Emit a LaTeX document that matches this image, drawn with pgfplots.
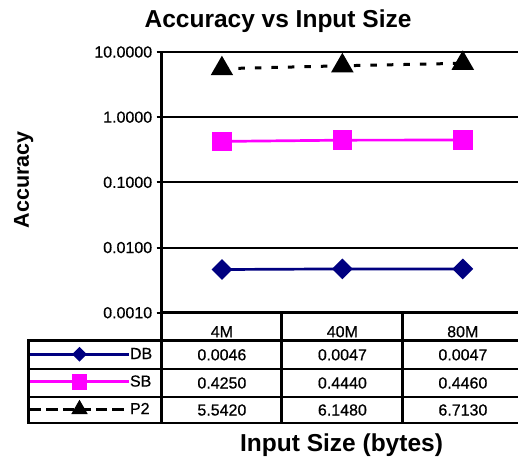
\documentclass[border=0pt]{standalone}
\usepackage{fontspec}
\setmainfont{Liberation Sans}
\newfontfamily\tickfam{Liberation Sans}[FakeBold=0.6]
\usepackage{pgfplots}
\pgfplotsset{compat=1.18}

\definecolor{dbnavy}{RGB}{0,0,128}
\definecolor{sbmag}{RGB}{255,0,255}
\newcommand{\tickfont}{\tickfam\fontsize{16}{19}\selectfont}
\newcommand{\bigfont}{\fontsize{24.5}{29}\selectfont\bfseries}
\newcommand{\ylfont}{\fontsize{21.5}{26}\selectfont\bfseries}

% long legend key with a single marker in the middle (for the data table)
\pgfplotsset{
    tablekey/.style={legend image code/.code={
        \path (0pt,0pt) -- (98.7pt,0pt);
        \draw[mark repeat=2, mark phase=2, ##1, mark size=#1]
            plot coordinates {(4.7pt,0pt) (49.7pt,0pt) (94.7pt,0pt)};}},
}

\begin{document}
\begin{tikzpicture}[x=1pt,y=1pt]
\begin{axis}[
    at={(161.7pt,146.3pt)}, anchor=south west,
    scale only axis, width=361.3pt, height=260.7pt,
    xmin=-0.5, xmax=2.5,
    ymode=log, ymin=0.001, ymax=10,
    axis lines*=left,
    axis line style={line width=2.5pt},
    xtick={0,1,2}, xticklabels={4M,40M,80M},
    xtick style={draw=none},
    xticklabel style={anchor=center, yshift=-14pt, font=\tickfont},
    ytick={0.001,0.01,0.1,1,10},
    yticklabels={0.0010,0.0100,0.1000,1.0000,10.0000},
    yminorticks=false,
    ymajorgrids, major grid style={black, line width=2pt},
    tick align=outside, major tick length=5pt,
    ytick style={black, line width=2pt},
    yticklabel style={font=\tickfont, xshift=-1pt},
    title={Accuracy vs Input Size},
    title style={at={(axis description cs:0.322,1.1227)}, anchor=center,
        yshift=-7.5pt, font=\bigfont},
    xlabel={Input Size (bytes)},
    xlabel style={at={(axis description cs:0.4977,-0.5075)}, anchor=center, font=\bigfont},
    ylabel={Accuracy},
    ylabel style={at={(axis description cs:-0.382,0.51)}, anchor=center, font=\ylfont},
    legend style={at={(axis description cs:-0.3692,-0.1066)}, anchor=north west,
        draw=none, fill=none, inner sep=0pt, outer sep=0pt,
        row sep=0pt, column sep=0pt, font=\tickfont,
        nodes={inner sep=0pt, minimum height=27.5pt, anchor=west}},
    legend cell align=left,
]
% DB
\addplot[color=dbnavy, line width=2.7pt, mark=square*, mark size=6pt,
    mark options={rotate=45, solid}, tablekey=3.9pt]
    coordinates {(0,0.0046) (1,0.0047) (2,0.0047)};
\addlegendentry{DB}
% SB
\addplot[color=sbmag, line width=2.7pt, mark=square*, mark size=8.5pt,
    mark options={solid}, tablekey=6.5pt]
    coordinates {(0,0.4250) (1,0.4440) (2,0.4460)};
\addlegendentry{SB}
% P2
\addplot[color=black, line width=3pt, dash pattern=on 6.5pt off 10pt,
    mark=triangle*, mark size=10pt, mark options={solid}, tablekey=6.5pt]
    coordinates {(0,5.5420) (1,6.1480) (2,6.7130)};
\addlegendentry{P2}
\end{axis}

% data table grid
\begin{scope}[line width=2.5pt, line cap=rect]
    \draw (28.3,118.5) -- (530,118.5);
    \draw (28.3,90) -- (530,90);
    \draw (28.3,62) -- (530,62);
    \draw (28.3,36) -- (530,36);
    \draw (28.3,36) -- (28.3,118.5);
    \draw (161.7,36) -- (161.7,146.3);
    \draw (281.7,36) -- (281.7,146.3);
    \draw (402.7,36) -- (402.7,146.3);
\end{scope}
\begin{scope}[every node/.style={font=\tickfont, anchor=center}]
    \node at (221.9,104.2) {0.0046};
    \node at (342.4,104.2) {0.0047};
    \node at (462.9,104.2) {0.0047};
    \node at (221.9,76) {0.4250};
    \node at (342.4,76) {0.4440};
    \node at (462.9,76) {0.4460};
    \node at (221.9,49) {5.5420};
    \node at (342.4,49) {6.1480};
    \node at (462.9,49) {6.7130};
\end{scope}

\pgfresetboundingbox
\path[use as bounding box] (0,0) rectangle (518,459);
\end{tikzpicture}
\end{document}
